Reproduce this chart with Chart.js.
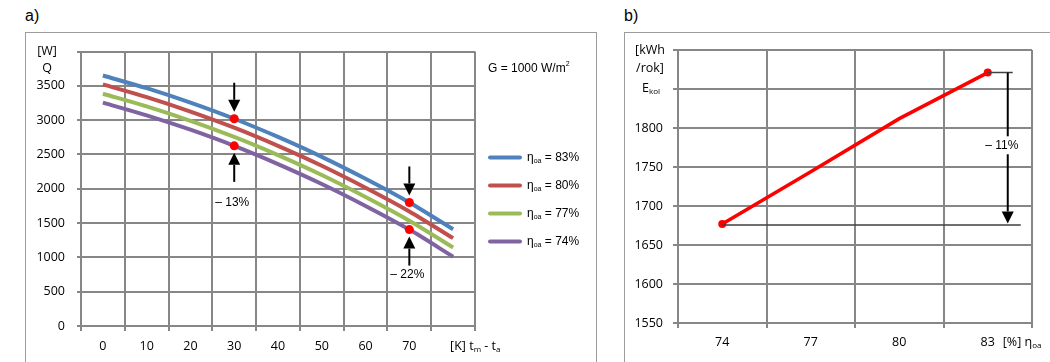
<!DOCTYPE html>
<html>
<head>
<meta charset="utf-8">
<script src="https://cdn.jsdelivr.net/npm/chart.js@4.4.1/dist/chart.umd.min.js"></script>
<style>
  body { margin:0; width:1050px; height:362px; background:#fff; position:relative; overflow:hidden; font-family:"Liberation Sans", Arial, sans-serif; }
  .frame { position:absolute; border:1px solid #9c9c9c; box-sizing:border-box; }
  .tag { position:absolute; font-size:16px; line-height:16px; color:#000; }
  canvas { position:absolute; }
</style>
</head>
<body>
<div class="tag" style="left:25px;top:8px">a)</div>
<div class="tag" style="left:624px;top:8px">b)</div>
<div class="frame" style="left:25px;top:32px;width:572px;height:360px"></div>
<div class="frame" style="left:624px;top:32px;width:460px;height:360px"></div>
<canvas id="chartA" width="571" height="330" style="left:25px;top:32px"></canvas>
<canvas id="chartB" width="426" height="330" style="left:624px;top:32px"></canvas>
<script>
// a) Q vs (tm - ta), one curve per optical efficiency
const tempDiff = ['0', '10', '20', '30', '40', '50', '60', '70', '80']
const q83 = [3650, 3465, 3255, 3020, 2755, 2465, 2145, 1800, 1410]
const q80 = [3520, 3335, 3125, 2890, 2625, 2335, 2015, 1670, 1280]
const q77 = [3385, 3200, 2990, 2755, 2490, 2200, 1880, 1535, 1145]
const q74 = [3255, 3070, 2860, 2625, 2360, 2070, 1750, 1405, 1010]
const etaNames = ['83%', '80%', '77%', '74%']
const markIdx = [3, 7]            // categories 30 and 70 with red dots
const dropLabels = ['– 13%', '– 22%']
const dropLabelDy = [57, 45]

// b) yearly energy vs efficiency
const etaCats = ['74', '77', '80', '83']
const energy = [1677, 1744, 1812, 1871]
const energyDrop = '– 11%'

const GRID = '#878787'
const tickFont = { family: '"Open Sans", sans-serif', size: 12.5 }
const textFont = '12px "Liberation Sans", Arial, sans-serif'
const colors = ['#4F81BD', '#C0504D', '#9BBB59', '#8064A2']

// draws pieces like [['η'], ['oa', 'sub'], [' = 83%']] starting at x
function richText(ctx, parts, x, y, size, family) {
  ctx.textBaseline = 'middle'
  ctx.textAlign = 'left'
  parts.forEach(p => {
    const small = p[1] === 'sub' || p[1] === 'sup'
    ctx.font = (small ? Math.round(size * 0.62) : size) + 'px ' + family
    const dy = p[1] === 'sub' ? size * 0.28 : p[1] === 'sup' ? -size * 0.35 : 0
    ctx.fillText(p[0], x, y + dy)
    x += ctx.measureText(p[0]).width
  })
  return x
}
function richWidth(ctx, parts, size, family) {
  let w = 0
  parts.forEach(p => {
    const small = p[1] === 'sub' || p[1] === 'sup'
    ctx.font = (small ? Math.round(size * 0.62) : size) + 'px ' + family
    w += ctx.measureText(p[0]).width
  })
  return w
}
function arrow(ctx, x, yTail, yTip) {
  const dir = Math.sign(yTip - yTail)
  const head = 12
  ctx.strokeStyle = '#000'
  ctx.fillStyle = '#000'
  ctx.lineWidth = 2
  ctx.beginPath()
  ctx.moveTo(x, yTail)
  ctx.lineTo(x, yTip - dir * head)
  ctx.stroke()
  ctx.beginPath()
  ctx.moveTo(x, yTip)
  ctx.lineTo(x - 6, yTip - dir * head)
  ctx.lineTo(x + 6, yTip - dir * head)
  ctx.closePath()
  ctx.fill()
}

const annotateA = {
  id: 'annotateA',
  afterDatasetsDraw(chart) {
    const { ctx, chartArea, scales: { x, y } } = chart
    ctx.save()
    ctx.fillStyle = '#000'
    // y title
    ctx.font = '12.5px "Open Sans", sans-serif'
    ctx.textAlign = 'center'
    ctx.textBaseline = 'middle'
    ctx.fillText('[W]', chartArea.left - 34, chartArea.top)
    ctx.fillText('Q', chartArea.left - 34, chartArea.top + 17)
    // x title in last category slot
    const xt = x.getPixelForValue(tempDiff.length - 1) - 3
    richText(ctx, [['[K] t'], ['m', 'sub'], [' - t'], ['a', 'sub']], xt, chartArea.bottom + 20, 12.5, '"Open Sans", sans-serif')
    // arrows at marked points
    markIdx.forEach((i, k) => {
      const px = x.getPixelForValue(i)
      const yTop = y.getPixelForValue(q83[i])
      const yBot = y.getPixelForValue(q74[i])
      arrow(ctx, px, yTop - 36, yTop - 7)
      arrow(ctx, px, yBot + 36, yBot + 7)
      ctx.fillStyle = '#000'
      ctx.font = textFont
      ctx.textAlign = 'center'
      ctx.textBaseline = 'middle'
      ctx.fillText(dropLabels[k], px - 2, yBot + dropLabelDy[k])
    })
    // G note and legend
    const lx = chartArea.right + 13
    ctx.fillStyle = '#000'
    richText(ctx, [['G = 1000 W/m'], ['2', 'sup']], lx, chartArea.top + 17, 12, '"Liberation Sans", Arial, sans-serif')
    chart.data.datasets.forEach((ds, i) => {
      const ly = chartArea.top + 106 + i * 28
      ctx.strokeStyle = ds.borderColor
      ctx.lineWidth = 4
      ctx.lineCap = 'round'
      ctx.beginPath()
      ctx.moveTo(lx + 2, ly)
      ctx.lineTo(lx + 32, ly)
      ctx.stroke()
      ctx.fillStyle = '#000'
      richText(ctx, [['η'], ['oa', 'sub'], [' = ' + etaNames[i]]], lx + 39, ly, 12, '"Liberation Sans", Arial, sans-serif')
    })
    ctx.restore()
  }
}

const annotateB = {
  id: 'annotateB',
  afterDatasetsDraw(chart) {
    const { ctx, chartArea, scales: { x, y } } = chart
    const n = energy.length
    const x0 = x.getPixelForValue(0), y0 = y.getPixelForValue(energy[0])
    const xn = x.getPixelForValue(n - 1), yn = y.getPixelForValue(energy[n - 1])
    ctx.save()
    ctx.strokeStyle = '#404040'
    ctx.lineWidth = 1.5
    ctx.beginPath()
    ctx.moveTo(xn, yn)
    ctx.lineTo(xn + 25, yn)
    ctx.moveTo(x0, y0 + 1)
    ctx.lineTo(xn + 33, y0 + 1)
    ctx.stroke()
    arrow(ctx, xn + 20, yn, y0 - 0.5)
    // label with white box
    ctx.font = textFont
    const w = ctx.measureText(energyDrop).width
    const ly = (yn + y0) / 2 - 3
    ctx.fillStyle = '#fff'
    ctx.fillRect(xn + 14 - w / 2 - 2, ly - 9, w + 4, 18)
    ctx.fillStyle = '#000'
    ctx.textAlign = 'center'
    ctx.textBaseline = 'middle'
    ctx.fillText(energyDrop, xn + 14, ly)
    // axis titles
    ctx.font = '12.5px "Open Sans", sans-serif'
    ctx.fillText('[kWh', chartArea.left - 28, chartArea.top)
    ctx.fillText('/rok]', chartArea.left - 28, chartArea.top + 18)
    richText(ctx, [['E'], ['kol', 'sub']], chartArea.left - 36, chartArea.top + 38, 12.5, '"Open Sans", sans-serif')
    richText(ctx, [['[%] η'], ['oa', 'sub']], xn + 15, chartArea.bottom + 19, 12.5, '"Open Sans", sans-serif')
    ctx.restore()
  }
}

function axisX(height, pad) {
  return {
    type: 'category',
    offset: true,
    grid: { offset: true, color: GRID, lineWidth: 2, tickLength: 5 },
    border: { color: GRID, width: 2 },
    ticks: { font: tickFont, color: '#000', padding: pad, maxRotation: 0, autoSkip: false },
    afterFit: s => { s.height = height }
  }
}

new Chart(document.querySelector('#chartA'), {
  type: 'line',
  data: {
    labels: tempDiff,
    datasets: [q83, q80, q77, q74].map((d, i) => ({
      label: 'ηoa = ' + etaNames[i],
      data: d,
      borderColor: colors[i],
      borderWidth: 4,
      tension: 0.3,
      pointRadius: (i === 0 || i === 3) ? (c => markIdx.includes(c.dataIndex) ? 4.5 : 0) : 0,
      pointBackgroundColor: '#FF0000',
      pointBorderWidth: 0
    }))
  },
  options: {
    responsive: false,
    animation: false,
    devicePixelRatio: 1,
    layout: { padding: { top: 18, right: 121, left: 0, bottom: 0 } },
    plugins: { legend: { display: false }, tooltip: { enabled: false } },
    scales: {
      x: Object.assign(axisX(36, 7.5), {
        ticks: { font: tickFont, color: '#000', padding: 7.5, maxRotation: 0, autoSkip: false,
          callback: (v, i) => i === tempDiff.length - 1 ? '' : tempDiff[i] }
      }),
      y: {
        min: 0, max: 4000,
        grid: { color: GRID, lineWidth: 2, tickLength: 4 },
        border: { color: GRID, width: 2 },
        ticks: { stepSize: 500, font: tickFont, color: '#000', padding: 12,
          callback: v => v === 4000 ? '' : v },
        afterFit: s => { s.width = 56 }
      }
    }
  },
  plugins: [annotateA]
})

new Chart(document.querySelector('#chartB'), {
  type: 'line',
  data: {
    labels: etaCats,
    datasets: [{
      label: 'Ekol',
      data: energy,
      borderColor: '#FF0000',
      borderWidth: 3.5,
      tension: 0,
      pointRadius: c => (c.dataIndex === 0 || c.dataIndex === energy.length - 1) ? 4 : 0,
      pointBackgroundColor: '#FF0000',
      pointBorderWidth: 0
    }]
  },
  options: {
    responsive: false,
    animation: false,
    devicePixelRatio: 1,
    layout: { padding: { top: 18, right: 18, left: 0, bottom: 0 } },
    plugins: { legend: { display: false }, tooltip: { enabled: false } },
    scales: {
      x: axisX(39, 6.5),
      y: {
        min: 1550, max: 1900,
        grid: { color: GRID, lineWidth: 2, tickLength: 5 },
        border: { color: GRID, width: 2 },
        ticks: { stepSize: 50, font: tickFont, color: '#000', padding: 10,
          callback: v => v >= 1850 ? '' : v },
        afterFit: s => { s.width = 54 }
      }
    }
  },
  plugins: [annotateB]
})
</script>
</body>
</html>
